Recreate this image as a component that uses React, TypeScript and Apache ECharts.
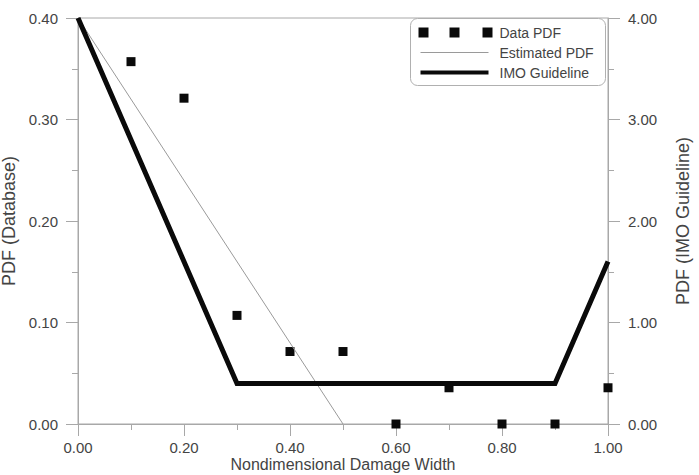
import React, { useEffect, useRef } from "react";
import * as echarts from "echarts";

const dataX = [0.1, 0.2, 0.3, 0.4, 0.5, 0.6, 0.7, 0.8, 0.9, 1.0];
const dataPdf = [0.357, 0.321, 0.107, 0.0714, 0.0714, 0, 0.0357, 0, 0, 0.0357];
const estX = [0, 0.5];
const estPdf = [0.4, 0];
const imoX = [0, 0.3, 0.9, 1.0];
const imoPdf = [4.0, 0.4, 0.4, 1.6];
const legendNames = ["Data PDF", "Estimated PDF", "IMO Guideline"];

const axisGray = "#a8a8a8";
const textColor = "#444";
const font = "Liberation Sans, Arial, sans-serif";

export default function App() {
  const ref = useRef<HTMLDivElement>(null);
  useEffect(() => {
    if (!ref.current) return;
    const chart = echarts.init(ref.current, undefined, { renderer: "svg" });
    const fmt = (v: number) => v.toFixed(2);
    const axisCommon = {
      axisLine: { show: true, lineStyle: { color: axisGray, width: 1 } },
      axisTick: { show: true, inside: false, length: 12, lineStyle: { color: axisGray } },
      minorTick: { show: true, splitNumber: 2, length: 6, lineStyle: { color: axisGray } },
      splitLine: { show: false },
      axisLabel: { color: textColor, fontSize: 15, fontFamily: font, formatter: fmt },
      nameTextStyle: { color: textColor, fontSize: 18, fontFamily: font },
    };
    chart.setOption({
      animation: false,
      grid: {
        left: 78, right: 91, top: 18, bottom: 51, show: true, borderColor: axisGray, borderWidth: 1,
        containLabel: false, outerBoundsMode: "none",
      },
      xAxis: {
        type: "value", min: 0, max: 1, interval: 0.2,
        name: "Nondimensional Damage Width", nameLocation: "middle", nameGap: 32,
        nameMoveOverlap: false,
        ...axisCommon,
        nameTextStyle: { ...axisCommon.nameTextStyle, fontSize: 16 },
        axisLabel: { ...axisCommon.axisLabel, margin: 16 },
      },
      yAxis: [
        {
          type: "value", min: 0, max: 0.4, interval: 0.1, position: "left",
          name: "PDF (Database)", nameLocation: "middle", nameGap: 43,
          ...axisCommon,
          axisLabel: { ...axisCommon.axisLabel, margin: 20 },
        },
        {
          type: "value", min: 0, max: 4, interval: 1, position: "right",
          name: "PDF (IMO Guideline)", nameLocation: "middle", nameGap: 66,
          ...axisCommon,
          axisLabel: { ...axisCommon.axisLabel, margin: 20 },
        },
      ],
      series: [
        {
          name: legendNames[1], type: "line", yAxisIndex: 0, symbol: "none",
          lineStyle: { color: "#9a9a9a", width: 1 },
          data: estX.map((x, i) => [x, estPdf[i]]),
        },
        {
          name: legendNames[2], type: "line", yAxisIndex: 1, symbol: "none",
          lineStyle: { color: "#0a0a0a", width: 5, join: "miter" },
          data: imoX.map((x, i) => [x, imoPdf[i]]),
        },
        {
          name: legendNames[0], type: "scatter", yAxisIndex: 0, symbol: "rect", symbolSize: 9,
          itemStyle: { color: "#0a0a0a", opacity: 1 },
          data: dataX.map((x, i) => [x, dataPdf[i]]),
        },
      ],
      graphic: [
        {
          type: "group", left: 410, top: 18, z: 100,
          children: [
            { type: "rect", shape: { x: 0, y: 0, width: 195, height: 67, r: 7 }, style: { fill: "#fff", stroke: "#b0b0b0", lineWidth: 1 } },
            { type: "rect", shape: { x: 8, y: 9, width: 10, height: 10 }, style: { fill: "#0a0a0a" } },
            { type: "rect", shape: { x: 39, y: 9, width: 10, height: 10 }, style: { fill: "#0a0a0a" } },
            { type: "rect", shape: { x: 72, y: 9, width: 10, height: 10 }, style: { fill: "#0a0a0a" } },
            { type: "text", x: 89, y: 14, style: { text: legendNames[0], fill: textColor, fontSize: 14, fontFamily: font, verticalAlign: "middle" } },
            { type: "line", shape: { x1: 10, y1: 34, x2: 78, y2: 34 }, style: { stroke: "#9a9a9a", lineWidth: 1 } },
            { type: "text", x: 89, y: 34, style: { text: legendNames[1], fill: textColor, fontSize: 14, fontFamily: font, verticalAlign: "middle" } },
            { type: "line", shape: { x1: 10, y1: 54, x2: 78, y2: 54 }, style: { stroke: "#0a0a0a", lineWidth: 4 } },
            { type: "text", x: 89, y: 54, style: { text: legendNames[2], fill: textColor, fontSize: 14, fontFamily: font, verticalAlign: "middle" } },
          ],
        },
      ],
    });
    return () => chart.dispose();
  }, []);
  return <div ref={ref} style={{ width: 699, height: 475, position: "absolute", left: 0, top: 0 }} />;
}
